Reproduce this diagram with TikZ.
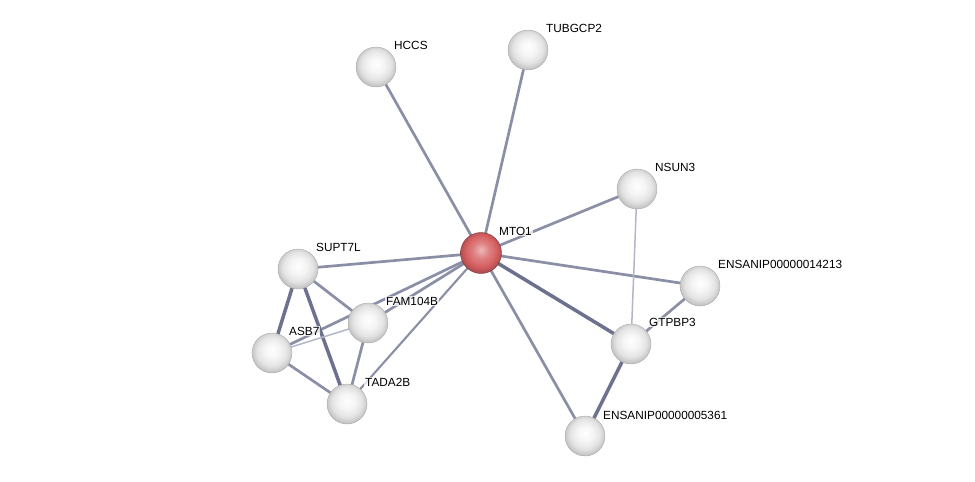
\documentclass[tikz,border=0pt]{standalone}
\usepackage{fontspec}
\setmainfont{Liberation Sans}
\pgfdeclarelayer{background}
\pgfsetlayers{background,main}
\definecolor{edgemid}{RGB}{138,143,165}
\definecolor{edgedark}{RGB}{108,114,142}
\definecolor{edgelight}{RGB}{178,182,200}
\definecolor{redball}{RGB}{214,96,98}
\pgfdeclareradialshading{greyball}{\pgfpoint{0bp}{4bp}}{color(0bp)=(white); color(10bp)=(gray!8); color(19bp)=(gray!22); color(26bp)=(gray!48); color(32bp)=(gray!70); color(50bp)=(gray!70)}
\pgfdeclareradialshading{redshade}{\pgfpoint{0bp}{4bp}}{color(0bp)=(redball!45!white); color(10bp)=(redball!80!white); color(19bp)=(redball); color(26bp)=(redball!80!black); color(32bp)=(redball!60!black); color(50bp)=(redball!60!black)}
\begin{document}
\begin{tikzpicture}[x=1pt,y=-1pt,
  prot/.style={circle,minimum size=40pt,inner sep=0pt,shading=greyball,draw=gray!65,line width=0.4pt},
  center/.style={prot,minimum size=41pt,shading=redshade,draw=redball!55!black},
  lbl/.style={anchor=west,font=\fontsize{11.8}{13}\selectfont,inner sep=1pt,fill=white,fill opacity=0.75,text opacity=1},
  emid/.style={draw=edgemid,line width=2.7pt},
  edark/.style={draw=edgedark,line width=3.5pt},
  ethin/.style={draw=edgemid,line width=2.1pt},
  elight/.style={draw=edgelight,line width=1.5pt}]
\useasboundingbox (0,0) rectangle (975,482);
\node[center] (mto1) at (481,253) {};
\node[prot] (hccs) at (376,67) {};
\node[prot] (tub) at (528,50) {};
\node[prot] (nsun) at (637,189) {};
\node[prot] (e14) at (700,286) {};
\node[prot] (gtp) at (631,344) {};
\node[prot] (e53) at (585,436) {};
\node[prot] (supt) at (298,269) {};
\node[prot] (fam) at (368,323) {};
\node[prot] (asb) at (272,353) {};
\node[prot] (tada) at (347,404) {};
\node[lbl] (lmto1) at (498,231) {MTO1};
\node[lbl] (lhccs) at (393,45) {HCCS};
\node[lbl] (ltub) at (545,28) {TUBGCP2};
\node[lbl] (lnsun) at (654,167) {NSUN3};
\node[lbl] (le14) at (717,264) {ENSANIP00000014213};
\node[lbl] (lgtp) at (648,322) {GTPBP3};
\node[lbl] (le53) at (602,415) {ENSANIP00000005361};
\node[lbl] (lsupt) at (315,247) {SUPT7L};
\node[lbl] (lfam) at (385,301) {FAM104B};
\node[lbl] (lasb) at (288,331) {ASB7};
\node[lbl] (ltada) at (364,382) {TADA2B};
\begin{pgfonlayer}{background}
\draw[emid] (mto1.center) -- (hccs.center);
\draw[emid] (mto1.center) -- (tub.center);
\draw[emid] (mto1.center) -- (nsun.center);
\draw[emid] (mto1.center) -- (e14.center);
\draw[edark] (mto1.center) -- (gtp.center);
\draw[emid] (mto1.center) -- (e53.center);
\draw[emid] (mto1.center) -- (supt.center);
\draw[emid] (mto1.center) -- (fam.center);
\draw[emid] (mto1.center) -- (asb.center);
\draw[ethin] (mto1.center) -- (tada.center);
\draw[elight] (nsun.center) -- (gtp.center);
\draw[emid] (gtp.center) -- (e14.center);
\draw[edark] (gtp.center) -- (e53.center);
\draw[edark] (supt.center) -- (asb.center);
\draw[emid] (supt.center) -- (fam.center);
\draw[edark] (supt.center) -- (tada.center);
\draw[elight] (asb.center) -- (fam.center);
\draw[emid] (asb.center) -- (tada.center);
\draw[emid] (fam.center) -- (tada.center);
\end{pgfonlayer}
\end{tikzpicture}
\end{document}
